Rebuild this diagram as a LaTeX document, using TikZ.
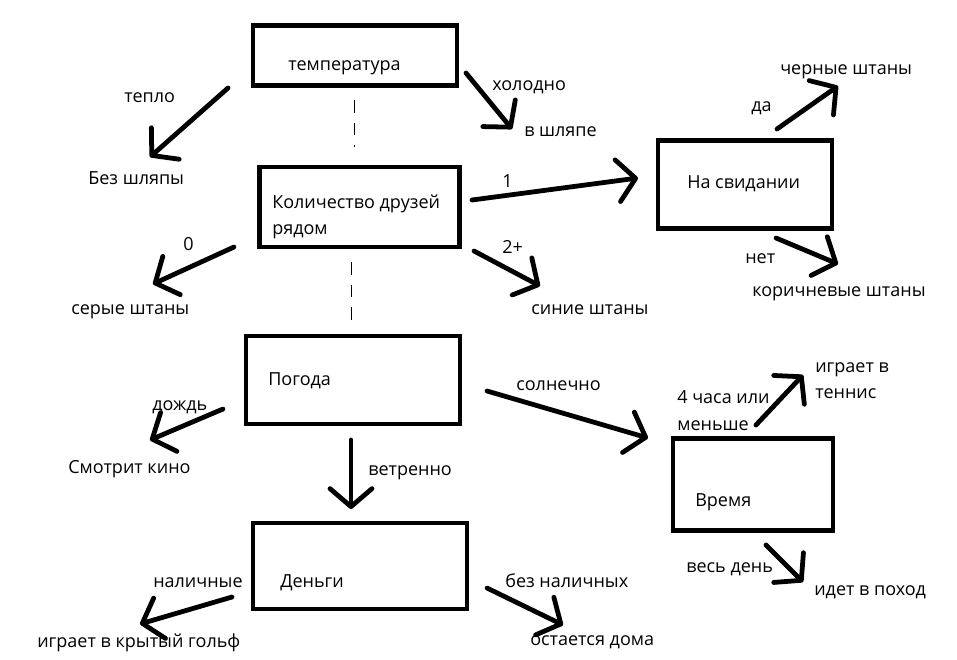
\documentclass[tikz,border=0pt]{standalone}
\usepackage{fontspec}
\setmainfont{Open Sans}
\usetikzlibrary{arrows.meta}
\tikzset{
  box/.style={rectangle, draw, line width=3.4pt, minimum width=#1},
  lbl/.style={anchor=west, inner sep=0pt, font=\fontsize{12.8}{19}\selectfont,
              text height=1.45ex, text depth=0.3ex, yshift=-2pt},
  lbls/.style={anchor=west, inner sep=0pt, align=left, yshift=-2pt,
               font=\fontsize{12.8}{19}\selectfont},
  arr/.style={line width=3.4pt, line cap=round,
              -{Straight Barb[length=0.45cm, width=1.05cm, line cap=round, round]}},
  link/.style={line width=0.7pt, dash pattern=on 9pt off 7pt},
}
\begin{document}
\begin{tikzpicture}[x=0.025cm, y=-0.025cm]
  \useasboundingbox (0,0) rectangle (957,659);

  % boxes
  \node[box=5.1cm, minimum height=1.5cm] (temp) at (355,55.5) {};
  \node[box=5.0cm, minimum height=2.0cm] (friends) at (359.5,207) {};
  \node[box=4.35cm, minimum height=2.2cm] (date) at (745,184.5) {};
  \node[box=5.35cm, minimum height=2.2cm] (weather) at (353,380) {};
  \node[box=5.35cm, minimum height=2.15cm] (money) at (360,566) {};
  \node[box=4.0cm, minimum height=2.3cm] (timebox) at (753,484.5) {};

  \node[lbl] (temp-t) at (288,63) {температура};
  \node[lbls] (friends-t) at (272,214) {Количество друзей\\рядом};
  \node[lbl] (date-t) at (687,181) {На свидании};
  \node[lbl] (weather-t) at (268,378) {Погода};
  \node[lbl] (money-t) at (280,580) {Деньги};
  \node[lbl] (timebox-t) at (695,499) {Время};

  % outcomes
  \node[lbl] (nohat) at (88,177) {Без шляпы};
  \node[lbl] (hat) at (524,129) {в шляпе};
  \node[lbl] (black) at (780,67) {черные штаны};
  \node[lbl] (brown) at (752,289) {коричневые штаны};
  \node[lbl] (grey) at (71,307) {серые штаны};
  \node[lbl] (blue) at (531,307) {синие штаны};
  \node[lbl] (movie) at (68,466) {Смотрит кино};
  \node[lbls] (tennis) at (815,378) {играет в\\теннис};
  \node[lbl] (hike) at (814,588) {идет в поход};
  \node[lbl] (golf) at (37,640) {играет в крытый гольф};
  \node[lbl] (home) at (530,638) {остается дома};

  % arrow ends
  \coordinate (a1) at (228,88);   \coordinate (b1) at (150,157);
  \coordinate (a2) at (466,73);   \coordinate (b2) at (512,129);
  \coordinate (a3) at (472,200);  \coordinate (b3) at (638,178);
  \coordinate (a4) at (474,251);  \coordinate (b4) at (540,286);
  \coordinate (a5) at (234,247);  \coordinate (b5) at (153,284);
  \coordinate (a6) at (777,129);  \coordinate (b6) at (838,86);
  \coordinate (a7) at (776,238);  \coordinate (b7) at (838,264);
  \coordinate (a8) at (223,409);  \coordinate (b8) at (150,440);
  \coordinate (a9) at (351,440);  \coordinate (b9) at (351,509);
  \coordinate (a10) at (487,391); \coordinate (b10) at (648,438);
  \coordinate (a11) at (756,425); \coordinate (b11) at (803,375);
  \coordinate (a12) at (766,545); \coordinate (b12) at (803,582);
  \coordinate (a13) at (232,597); \coordinate (b13) at (140,624);
  \coordinate (a14) at (487,588); \coordinate (b14) at (563,625);

  \draw[arr] (a1) -- (b1);
  \draw[arr] (a2) -- (b2);
  \draw[arr] (a3) -- (b3);
  \draw[arr] (a4) -- (b4);
  \draw[arr] (a5) -- (b5);
  \draw[arr] (a6) -- (b6);
  \draw[arr] (a7) -- (b7);
  \draw[arr] (a8) -- (b8);
  \draw[arr] (a9) -- (b9);
  \draw[arr] (a10) -- (b10);
  \draw[arr] (a11) -- (b11);
  \draw[arr] (a12) -- (b12);
  \draw[arr] (a13) -- (b13);
  \draw[arr] (a14) -- (b14);

  % dashed links between questions
  \coordinate (d1) at (354,100);  \coordinate (e1) at (354,147);
  \coordinate (d2) at (351,262);  \coordinate (e2) at (351,320);
  \draw[link] (d1) -- (e1);
  \draw[link] (d2) -- (e2);

  % branch labels
  \node[lbl] (l-warm) at (124,95) {тепло};
  \node[lbl] (l-cold) at (492,83) {холодно};
  \node[lbl] (l-one) at (502,180) {1};
  \node[lbl] (l-two) at (502,246) {2+};
  \node[lbl] (l-zero) at (183,243) {0};
  \node[lbl] (l-yes) at (751,104) {да};
  \node[lbl] (l-no) at (745,256) {нет};
  \node[lbl] (l-rain) at (152,403) {дождь};
  \node[lbl] (l-wind) at (368,468) {ветренно};
  \node[lbl] (l-sun) at (516,383) {солнечно};
  \node[lbls] (l-short) at (677,408) {4 часа или\\меньше};
  \node[lbl] (l-day) at (686,565) {весь день};
  \node[lbl] (l-cash) at (153,580) {наличные};
  \node[lbl] (l-nocash) at (505,580) {без наличных};
\end{tikzpicture}
\end{document}
